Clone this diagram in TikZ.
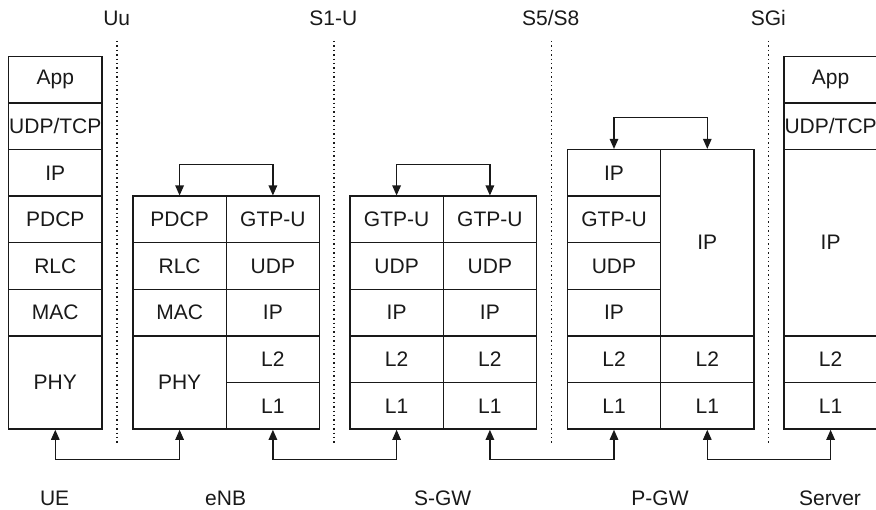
\documentclass[tikz,border=0pt]{standalone}
\usepackage{fontspec}
\setmainfont{Liberation Sans}
\usetikzlibrary{arrows.meta}

\begin{document}
\begin{tikzpicture}[x=1pt,y=-1pt,
  every node/.style={font=\fontsize{21}{25}\selectfont, text=black!90},
  layer/.style={draw=black!90, line width=1.3pt, minimum width=93.3pt,
    minimum height=46.6pt, inner sep=0pt, anchor=north west},
  dbl/.style={minimum height=93.2pt},
  quad/.style={minimum height=186.4pt},
  link/.style={draw=black!90, line width=1.2pt,
    {Triangle[length=10pt,width=8.5pt]}-{Triangle[length=10pt,width=8.5pt]}},
  iface/.style={draw=black!90, line width=1.4pt, dash pattern=on 1.4pt off 3pt},
  label/.style={inner sep=0pt}]
\clip (0,0) rectangle (876,510);

% UE protocol stack
\node[layer] (ueApp)  at (8,55.7)  {App};
\node[layer] (ueTr)   at (8,102.3) {UDP/TCP};
\node[layer] (ueIP)   at (8,148.9) {IP};
\node[layer] (uePDCP) at (8,195.5) {PDCP};
\node[layer] (ueRLC)  at (8,242.1) {RLC};
\node[layer] (ueMAC)  at (8,288.7) {MAC};
\node[layer,dbl] (uePHY) at (8,335.3) {PHY};

% eNB: radio side and S1 side
\node[layer] (enPDCP) at (132.3,195.5) {PDCP};
\node[layer] (enRLC)  at (132.3,242.1) {RLC};
\node[layer] (enMAC)  at (132.3,288.7) {MAC};
\node[layer,dbl] (enPHY) at (132.3,335.3) {PHY};
\node[layer] (enGTP)  at (225.6,195.5) {GTP-U};
\node[layer] (enUDP)  at (225.6,242.1) {UDP};
\node[layer] (enIP)   at (225.6,288.7) {IP};
\node[layer] (enL2)   at (225.6,335.3) {L2};
\node[layer] (enL1)   at (225.6,381.9) {L1};

% S-GW: S1-U side and S5/S8 side
\node[layer] (sgGTPa) at (349.3,195.5) {GTP-U};
\node[layer] (sgUDPa) at (349.3,242.1) {UDP};
\node[layer] (sgIPa)  at (349.3,288.7) {IP};
\node[layer] (sgL2a)  at (349.3,335.3) {L2};
\node[layer] (sgL1a)  at (349.3,381.9) {L1};
\node[layer] (sgGTPb) at (442.6,195.5) {GTP-U};
\node[layer] (sgUDPb) at (442.6,242.1) {UDP};
\node[layer] (sgIPb)  at (442.6,288.7) {IP};
\node[layer] (sgL2b)  at (442.6,335.3) {L2};
\node[layer] (sgL1b)  at (442.6,381.9) {L1};

% P-GW: S5/S8 side and SGi side
\node[layer] (pgIPu)  at (566.7,148.9) {IP};
\node[layer] (pgGTP)  at (566.7,195.5) {GTP-U};
\node[layer] (pgUDP)  at (566.7,242.1) {UDP};
\node[layer] (pgIPt)  at (566.7,288.7) {IP};
\node[layer] (pgL2a)  at (566.7,335.3) {L2};
\node[layer] (pgL1a)  at (566.7,381.9) {L1};
\node[layer,quad] (pgIPs) at (660,148.9) {IP};
\node[layer] (pgL2b)  at (660,335.3) {L2};
\node[layer] (pgL1b)  at (660,381.9) {L1};

% Server protocol stack
\node[layer] (svApp)  at (783.3,55.7)  {App};
\node[layer] (svTr)   at (783.3,102.3) {UDP/TCP};
\node[layer,quad] (svIP) at (783.3,148.9) {IP};
\node[layer] (svL2)   at (783.3,335.3) {L2};
\node[layer] (svL1)   at (783.3,381.9) {L1};

% Interface separators and names
\node[label] (uu)   at (116.7,18) {Uu};
\node[label] (s1u)  at (333.3,18) {S1-U};
\node[label] (s5)   at (550.7,18) {S5/S8};
\node[label] (sgi)  at (768.3,18) {SGi};
\coordinate (uuT)  at (116.8,41); \coordinate (uuB)  at (116.8,443);
\coordinate (s1uT) at (334.1,41); \coordinate (s1uB) at (334.1,443);
\coordinate (s5T)  at (551.3,41); \coordinate (s5B)  at (551.3,443);
\coordinate (sgiT) at (768.3,41); \coordinate (sgiB) at (768.3,443);
\draw[iface] (uuT) -- (uuB);
\draw[iface] (s1uT) -- (s1uB);
\draw[iface] (s5T) -- (s5B);
\draw[iface] (sgiT) -- (sgiB);

% Relays inside the network elements
\draw[link] (enPDCP.north) -- ++(0,-31.2) -| (enGTP.north);
\draw[link] (sgGTPa.north) -- ++(0,-31.2) -| (sgGTPb.north);
\draw[link] (pgIPu.north) -- ++(0,-31.6) -| (pgIPs.north);

% Peer links along the bottom
\draw[link] (uePHY.south) -- ++(0,29.8) -| (enPHY.south);
\draw[link] (enL1.south) -- ++(0,29.8) -| (sgL1a.south);
\draw[link] (sgL1b.south) -- ++(0,29.8) -| (pgL1a.south);
\draw[link] (pgL1b.south) -- ++(0,29.8) -| (svL1.south);

% Node names
\node[label] (ue)  at (54.6,498)  {UE};
\node[label] (enb) at (225.6,498) {eNB};
\node[label] (sgw) at (442.6,498) {S-GW};
\node[label] (pgw) at (660,498)   {P-GW};
\node[label] (srv) at (830,498)   {Server};
\end{tikzpicture}
\end{document}
